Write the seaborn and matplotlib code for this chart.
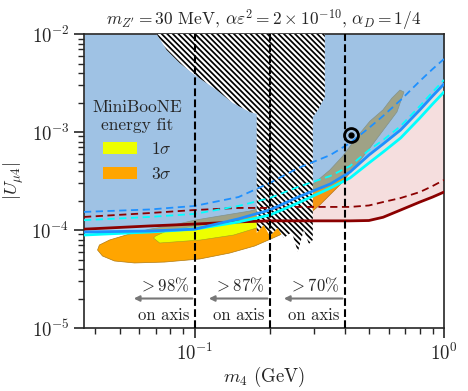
import numpy as np
import pandas as pd
import seaborn as sns
from matplotlib import pyplot as plt
from matplotlib.patches import Polygon, Patch

# limit curves, |U_mu4| vs m4 (GeV)
m4 = [0.036, 0.066, 0.1, 0.15, 0.2, 0.26, 0.35, 0.42, 0.5, 0.57, 0.67, 0.8, 0.9, 1.0]
blue_solid = [9.54e-5, 9.77e-5, 1.02e-4, 1.30e-4, 1.60e-4, 2.17e-4, 2.95e-4, 3.91e-4, 5.82e-4, 7.55e-4, 1.05e-3, 1.68e-3, 2.33e-3, 3.09e-3]
blue_dashed = [1.53e-4, 1.62e-4, 1.76e-4, 2.17e-4, 3.02e-4, 4.29e-4, 5.82e-4, 7.73e-4, 1.10e-3, 1.46e-3, 2.12e-3, 3.31e-3, 4.39e-3, 5.56e-3]
cyan_solid = [8.89e-5, 9.54e-5, 1.02e-4, 1.21e-4, 1.42e-4, 1.89e-4, 2.68e-4, 3.40e-4, 4.83e-4, 6.25e-4, 8.69e-4, 1.39e-3, 1.93e-3, 2.56e-3]
cyan_dashed = [1.26e-4, 1.36e-4, 1.46e-4, 1.76e-4, 2.12e-4, 2.75e-4, 3.56e-4, 4.50e-4, 6.55e-4, 8.28e-4, 1.15e-3, 1.84e-3, 2.56e-3, 3.40e-3]
red_solid = [1.02e-4, 1.10e-4, 1.15e-4, 1.21e-4, 1.24e-4, 1.24e-4, 1.24e-4, 1.24e-4, 1.25e-4, 1.35e-4, 1.60e-4, 1.93e-4, 2.17e-4, 2.44e-4]
red_dashed = [1.36e-4, 1.49e-4, 1.60e-4, 1.68e-4, 1.68e-4, 1.72e-4, 1.72e-4, 1.72e-4, 1.78e-4, 1.93e-4, 2.12e-4, 2.44e-4, 2.81e-4, 3.24e-4]

# MiniBooNE energy fit contours
sig3_m4 = [0.0408, 0.0427, 0.0477, 0.0574, 0.0758, 0.1047, 0.1382, 0.1742, 0.2195, 0.2641, 0.3177,
           0.3822, 0.4391, 0.5045, 0.5796, 0.6476, 0.6908, 0.6658, 0.6183, 0.5689, 0.5045, 0.4473,
           0.3929, 0.3484, 0.2896, 0.2407, 0.2000, 0.1663, 0.1260, 0.1000, 0.0793, 0.0660, 0.0548,
           0.0456, 0.0415]
sig3_U = [6.25e-5, 5.43e-5, 4.83e-5, 4.61e-5, 4.71e-5, 5.06e-5, 5.82e-5, 6.87e-5, 8.89e-5, 1.21e-4, 1.80e-4,
          2.88e-4, 4.40e-4, 6.87e-4, 1.10e-3, 1.60e-3, 2.56e-3, 2.68e-3, 2.22e-3, 1.68e-3, 1.29e-3, 8.89e-4,
          5.69e-4, 4.09e-4, 2.75e-4, 2.12e-4, 1.76e-4, 1.56e-4, 1.39e-4, 1.26e-4, 1.10e-4, 1.02e-4, 9.10e-5,
          7.91e-5, 7.03e-5]
sig1_m4 = [0.0684, 0.0724, 0.1057, 0.1434, 0.1774, 0.2019, 0.2057, 0.2000, 0.1434, 0.0991, 0.0772, 0.0697]
sig1_U = [8.28e-5, 7.37e-5, 7.91e-5, 8.89e-5, 1.05e-4, 1.21e-4, 1.33e-4, 1.39e-4, 1.24e-4, 1.10e-4, 9.77e-5, 8.69e-5]

# hatched region
hatch_m4 = [0.0704, 0.0772, 0.0871, 0.100, 0.1226, 0.1421, 0.1664, 0.1774, 0.1774, 0.1893, 0.2000, 0.2154,
            0.2276, 0.2453, 0.2593, 0.2741, 0.2871, 0.2978, 0.2978, 0.312, 0.3327, 0.3327]
hatch_U = [1e-2, 6.87e-3, 5.06e-3, 3.82e-3, 2.68e-3, 1.98e-3, 1.60e-3, 1.53e-3, 9.32e-5, 1.125e-4, 8.69e-5, 1.047e-4,
           8.28e-5, 9.54e-5, 5.97e-5, 1.0e-4, 7.20e-5, 7.91e-5, 1.42e-3, 1.68e-3, 2.27e-3, 1e-2]

vlines = [0.1, 0.2, 0.4]
frac_labels = [r'$>98\%$', r'$>87\%$', r'$>70\%$']
bench = (0.423, 9.3e-4)

sns.set_style('ticks')
plt.rcParams['font.family'] = 'serif'
plt.rcParams['font.serif'] = ['cmr10', 'DejaVu Serif']
plt.rcParams['mathtext.fontset'] = 'cm'
plt.rcParams['axes.formatter.use_mathtext'] = True
plt.rcParams['hatch.linewidth'] = 1.25

fig = plt.figure(figsize=(4.68, 3.91), dpi=100)
ax = fig.add_axes([0.1795, 0.1611, 0.7692, 0.7519])
ax.set_xscale('log')
ax.set_yscale('log')

# contours first, the shaded bounds go on top with alpha
ax.add_patch(Polygon(np.column_stack([sig3_m4, sig3_U]), closed=True, fc='#ffa500', ec='#b07a10', lw=0.5, zorder=1))
ax.add_patch(Polygon(np.column_stack([sig1_m4, sig1_U]), closed=True, fc='#eeff00', ec='#a0a020', lw=0.4, zorder=1.1))

ax.fill_between(m4, red_solid, 1e-2, color='indianred', alpha=0.2, lw=0, zorder=2)
ax.fill_between(m4, cyan_solid, 1e-2, color='cyan', alpha=0.08, lw=0, zorder=2.1)
ax.fill_between(m4, blue_solid, 1e-2, color='#5ea6e8', alpha=0.5, lw=0, zorder=2.2)

ax.add_patch(Polygon(np.column_stack([hatch_m4, hatch_U]), closed=True, fc='white', ec='black', lw=0,
                     hatch='\\\\\\\\\\\\', zorder=3))

curves = pd.DataFrame({'m4': m4, 'blue': blue_solid, 'blue_d': blue_dashed, 'cyan': cyan_solid,
                       'cyan_d': cyan_dashed, 'red': red_solid, 'red_d': red_dashed})
sns.lineplot(data=curves, x='m4', y='red_d', color='#8b0000', lw=1.3, ls=(0, (4, 2.5)), ax=ax, zorder=4)
sns.lineplot(data=curves, x='m4', y='blue_d', color='#1e90ff', lw=1.3, ls=(0, (4, 2.5)), ax=ax, zorder=4)
sns.lineplot(data=curves, x='m4', y='cyan_d', color='cyan', lw=1.3, ls=(0, (4, 2.5)), ax=ax, zorder=4)
sns.lineplot(data=curves, x='m4', y='red', color='#8b0000', lw=2, ax=ax, zorder=4)
sns.lineplot(data=curves, x='m4', y='cyan', color='cyan', lw=2, ax=ax, zorder=4)
sns.lineplot(data=curves, x='m4', y='blue', color='#1e90ff', lw=2, ax=ax, zorder=4)

for x0, lab in zip(vlines, frac_labels):
    ax.axvline(x0, color='black', ls='--', lw=1.5, zorder=5)
    ax.annotate('', xy=(0.57 * x0, 2e-5), xytext=(0.98 * x0, 2e-5),
                arrowprops=dict(arrowstyle='-|>', color='#777777', lw=1.5, mutation_scale=8,
                                shrinkA=0, shrinkB=0), zorder=5)
    ax.text(0.955 * x0, 2.75e-5, lab, ha='right', va='center', fontsize=12)
    ax.text(0.955 * x0, 1.36e-5, 'on axis', ha='right', va='center', fontsize=12)

ax.plot(*bench, marker='o', ms=10, mfc='none', mec='black', mew=2, zorder=6)
ax.plot(*bench, marker='o', ms=3.5, color='black', zorder=6)

ax.set_xlim(0.036, 1.0)
ax.set_ylim(1e-5, 1e-2)
ax.set_xlabel(r'$m_4$ (GeV)', fontsize=13.5, labelpad=1)
ax.set_ylabel(r'$|U_{\mu 4}|$', fontsize=13.5)
ax.set_title(r'$m_{Z^\prime}=30$ MeV, $\alpha\varepsilon^2=2\times10^{-10}$, $\alpha_D=1/4$', fontsize=12.5)
ax.tick_params(which='major', length=7, width=1.2, labelsize=13.5)
ax.tick_params(which='minor', length=4, width=1)
for s in ax.spines.values():
    s.set_linewidth(1.2)

handles = [Patch(fc='#eeff00', ec='none', label=r'$1\sigma$'), Patch(fc='#ffa500', ec='none', label=r'$3\sigma$')]
leg = ax.legend(handles=handles, title='MiniBooNE\nenergy fit', frameon=False, fontsize=12.5, title_fontsize=12.5,
                loc='upper left', bbox_to_anchor=(-0.02, 0.83), handlelength=2.0, handleheight=0.7)
leg.get_title().set_multialignment('center')

fig.savefig('out.png', dpi=100)
